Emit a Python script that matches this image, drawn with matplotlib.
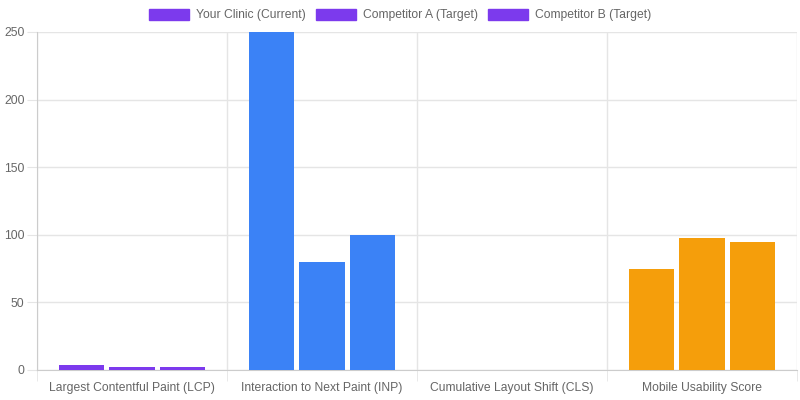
import numpy as np
import matplotlib
matplotlib.use('Agg')
import matplotlib.pyplot as plt
from matplotlib.patches import Patch

plt.rcParams['font.family'] = ['Liberation Sans', 'DejaVu Sans']

# Data
categories = ['Largest Contentful Paint (LCP)', 'Interaction to Next Paint (INP)',
              'Cumulative Layout Shift (CLS)', 'Mobile Usability Score']
series_names = ['Your Clinic (Current)', 'Competitor A (Target)', 'Competitor B (Target)']
clinic = [3.8, 250, 0.25, 75]
comp_a = [2.0, 80, 0.1, 98]
comp_b = [2.2, 100, 0.1, 95]
cat_colors = ['#7c3aed', '#3b82f6', '#10b981', '#f59e0b']
legend_color = '#7c3aed'
y_ticks = [0, 50, 100, 150, 200, 250]

text_color = '#666666'
grid_color = '#e5e5e5'
fs = 8.7

fig = plt.figure(figsize=(8, 4), dpi=100)
ax = fig.add_axes([0.04625, 0.075, 0.95, 0.845])

x = np.arange(len(categories))
cat_w = 0.8
slot = cat_w / 3
bar_w = slot * 0.9
for i, vals in enumerate([clinic, comp_a, comp_b]):
    offs = -cat_w / 2 + slot * (i + 0.5)
    ax.bar(x + offs, vals, width=bar_w, color=cat_colors, zorder=3)

ax.set_xlim(-0.5, len(categories) - 0.5)
ax.set_ylim(0, 250)
ax.set_yticks(y_ticks)
ax.set_xticks(x)
ax.set_xticklabels(categories)
ax.set_xticks(np.arange(-0.5, len(categories)), minor=True)

ax.grid(axis='y', color=grid_color, linewidth=1, zorder=0)
ax.grid(axis='x', which='minor', color=grid_color, linewidth=1, zorder=0)
ax.tick_params(axis='x', which='major', length=0, pad=9, labelsize=fs, labelcolor=text_color)
ax.tick_params(axis='x', which='minor', length=8, color=grid_color)
ax.tick_params(axis='y', length=7, color=grid_color, labelsize=fs, labelcolor=text_color, pad=2)

for side in ['top', 'right']:
    ax.spines[side].set_visible(False)
ax.spines['left'].set_color('#cccccc')
ax.spines['bottom'].set_color('#cccccc')

handles = [Patch(facecolor=legend_color, edgecolor=legend_color) for _ in series_names]
fig.legend(handles, series_names, loc='upper center', bbox_to_anchor=(0.5, 1.005),
           ncol=3, frameon=False, fontsize=fs, labelcolor=text_color,
           handlelength=3.3, handleheight=1.0, handletextpad=0.58, columnspacing=0.83)

fig.savefig('out.png', dpi=100)
